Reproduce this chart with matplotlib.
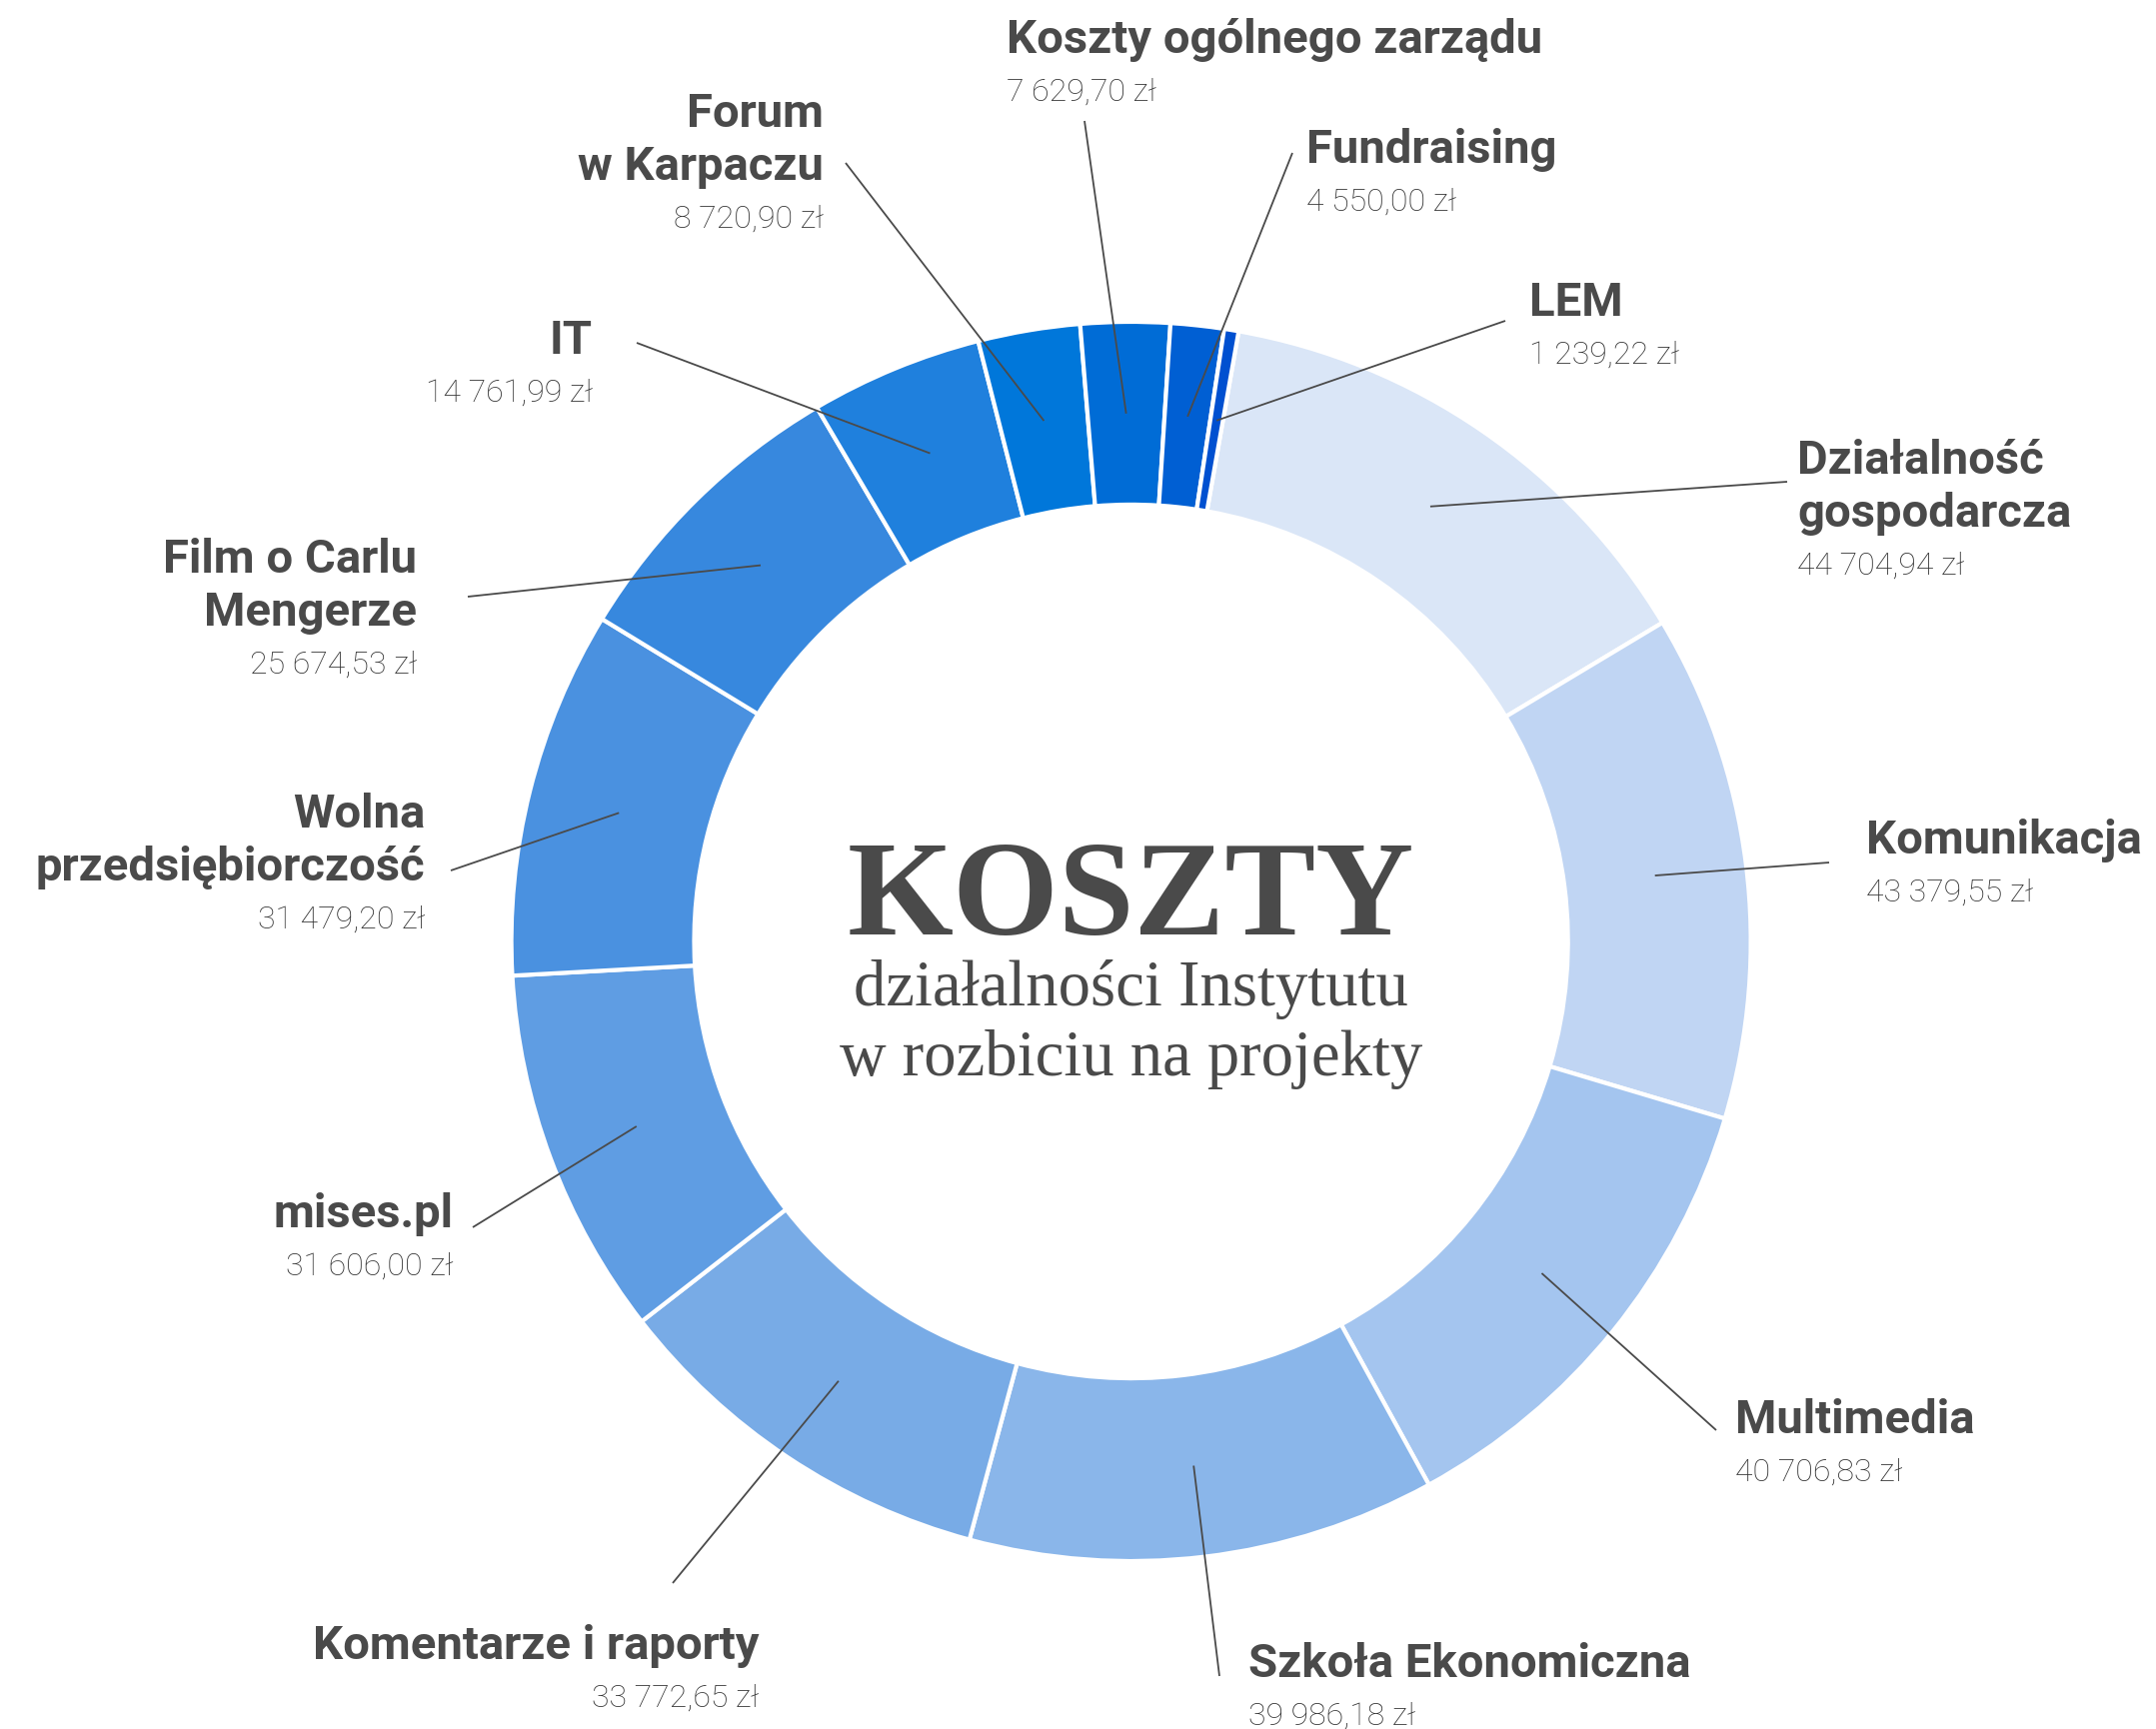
import numpy as np
import matplotlib

matplotlib.use("Agg")
import matplotlib.pyplot as plt

# data, clockwise from the top
projects = [
    "Działalność\ngospodarcza", "Komunikacja", "Multimedia", "Szkoła Ekonomiczna",
    "Komentarze i raporty", "mises.pl", "Wolna\nprzedsiębiorczość",
    "Film o Carlu\nMengerze", "IT", "Forum\nw Karpaczu",
    "Koszty ogólnego zarządu", "Fundraising", "LEM",
]
costs = [44704.94, 43379.55, 40706.83, 39986.18, 33772.65, 31606.00, 31479.20,
         25674.53, 14761.99, 8720.90, 7629.70, 4550.00, 1239.22]
colors = ["#dae6f7", "#c0d5f3", "#a4c5ef", "#8ab6ea", "#78abe6", "#5f9de3",
          "#4a91e0", "#3788de", "#1f80dd", "#0077da", "#006cd6", "#005fd3", "#0050d0"]

# layout in image pixels: leader outer end, label anchor (x, y of first line), alignment
leader_end = [(1788, 483), (1830, 864), (1717, 1432), (1220, 1678), (673, 1585),
              (473, 1229), (451, 872), (468, 598), (637, 344), (846, 164),
              (1085, 122), (1293, 154), (1506, 322)]
label_pos = [(1798, 458, "left"), (1867, 838, "left"), (1736, 1418, "left"),
             (1249, 1662, "left"), (759, 1644, "right"), (453, 1212, "right"),
             (425, 812, "right"), (417, 557, "right"), (593, 338, "right"),
             (824, 111, "right"), (1007, 37, "left"), (1307, 147, "left"),
             (1530, 300, "left")]

W, H = 2157, 1731
CX, CY, R = 1131.6, 943.0, 620.0
DARK = "#4a4a4a"


def px(x, y):
    return (x - CX) / R, (CY - y) / R


def fmt(v):
    s = f"{v:,.2f}".replace(",", " ").replace(".", ",")
    return s + " zł"


fig = plt.figure(figsize=(W / 100, H / 100), dpi=100)
ax = fig.add_axes([0, 0, 1, 1])

wedges, _ = ax.pie(costs, colors=colors, startangle=80, counterclock=False,
                   radius=1.0, wedgeprops=dict(width=0.295, edgecolor="white", linewidth=3))
ax.set_xlim(-CX / R, (W - CX) / R)
ax.set_ylim((CY - H) / R, CY / R)
ax.set_aspect("equal")
ax.axis("off")

for w, (ex, ey), (lx, ly, ha), name, v in zip(wedges, leader_end, label_pos, projects, costs):
    mid = np.deg2rad((w.theta1 + w.theta2) / 2)
    ix, iy = 0.852 * np.cos(mid), 0.852 * np.sin(mid)
    ox, oy = px(ex, ey)
    ax.plot([ix, ox], [iy, oy], color=DARK, lw=1.3, solid_capstyle="butt")
    lines = name.split("\n")
    for i, line in enumerate(lines):
        tx, ty = px(lx, ly + 53 * i + 16)
        ax.text(tx, ty, line, ha=ha, va="baseline", family="Roboto",
                fontweight="bold", fontsize=34, color=DARK)
    tx, ty = px(lx, ly + 53 * len(lines) + 11)
    ax.text(tx, ty, fmt(v), ha=ha, va="baseline", family="Roboto",
            fontweight="light", fontsize=23, color="#333333")

ax.text(*px(CX, 935), "KOSZTY", ha="center", va="baseline",
        family="Liberation Serif", fontweight="bold", fontsize=98, color=DARK)
ax.text(*px(CX, 1006), "działalności Instytutu", ha="center", va="baseline",
        family="Liberation Serif", fontsize=46.5, color=DARK)
ax.text(*px(CX, 1076), "w rozbiciu na projekty", ha="center", va="baseline",
        family="Liberation Serif", fontsize=46.5, color=DARK)

fig.savefig("out.png", dpi=100)
